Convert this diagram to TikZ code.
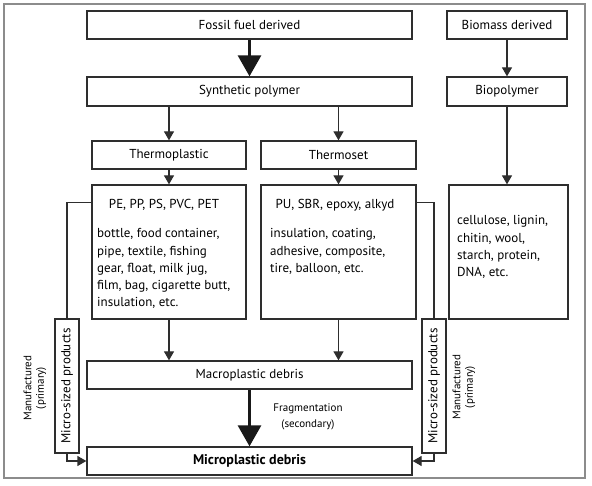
\documentclass[tikz,border=0pt]{standalone}
\usepackage{fontspec}
\setmainfont{PT Sans}
\usetikzlibrary{arrows.meta,positioning,calc}
\definecolor{lineGray}{HTML}{2E2E2E}
\definecolor{frameGray}{HTML}{8C8C8C}

\begin{document}
\begin{tikzpicture}[x=1pt, y=-1pt, font=\fontsize{13}{17.2}\selectfont,
  bx/.style={draw=lineGray, line width=1.3pt, inner sep=0pt},
  ln/.style={draw=lineGray, line width=1.3pt},
  ar/.style={ln, -{Triangle[width=10pt,length=9pt]}},
  bigar/.style={draw=black!90, line width=3pt, -{Triangle[width=23pt,length=21pt]}},
  txt/.style={align=left, inner sep=0pt, anchor=north west},
  side/.style={rotate=90, align=center, font=\fontsize{11}{12.5}\selectfont}]
\useasboundingbox (0,0) rectangle (592,486);
\draw[frameGray, line width=1.3pt] (4,4) rectangle (585,478);
% sources and polymers
\node[bx, minimum width=325pt, minimum height=28pt] (F) at (249.5,25) {Fossil fuel derived};
\node[bx, minimum width=120pt, minimum height=28pt] (B) at (507,25) {Biomass derived};
\node[bx, minimum width=325pt, minimum height=29pt] (S) at (249.5,91.5) {Synthetic polymer};
\node[bx, minimum width=120pt, minimum height=29pt] (BP) at (507,91.5) {Biopolymer};
\node[bx, minimum width=154pt, minimum height=28pt] (TP) at (169,155) {Thermoplastic};
\node[bx, minimum width=155pt, minimum height=28pt] (TS) at (338.5,155) {Thermoset};
% product boxes
\node[bx, minimum width=154pt, minimum height=134pt] (P) at (169,252) {};
\node at (164,205) {PE, PP, PS, PVC, PET};
\node[txt] at (97,228.5) {bottle, food container,\\pipe, textile, fishing\\gear, float, milk jug,\\film, bag, cigarette butt,\\insulation, etc.};
\node[bx, minimum width=155pt, minimum height=134pt] (Q) at (338.5,252) {};
\node at (335,205) {PU, SBR, epoxy, alkyd};
\node[txt] at (270,228.5) {insulation, coating,\\adhesive, composite,\\tire, balloon, etc.};
\node[bx, minimum width=119pt, minimum height=134pt] (N) at (508.5,252) {};
\node[txt] at (457,215.5) {cellulose, lignin,\\chitin, wool,\\starch, protein,\\DNA, etc.};
% debris
\node[bx, minimum width=325pt, minimum height=28pt] (MA) at (249.5,375) {Macroplastic debris};
\node[bx, minimum width=325pt, minimum height=28pt] (MI) at (249.5,461) {\fontsize{14}{17}\selectfont\bfseries Microplastic debris};
\node[align=center, font=\fontsize{11}{16}\selectfont] at (308,417) {Fragmentation\\(secondary)};
\node[bx, rotate=90, minimum width=134pt, minimum height=24pt] (L) at (67,386) {Micro-sized products};
\node[bx, rotate=90, minimum width=134pt, minimum height=24pt] (R) at (434,386) {Micro-sized products};
\node[side] at (35,388) {Manufactured\\(primary)};
\node[side] at (464,387) {Manufactured\\(primary)};
% arrows
\draw[bigar] (F.south) -- (S.north);
\draw[ar] (B.south) -- (BP.north);
\draw[ar] (S.south -| TP) -- (TP.north);
\draw[ar] (S.south -| TS) -- (TS.north);
\draw[ar] (BP.south) -- (BP.south |- N.north);
\draw[ar] (TP.south) -- (P.north);
\draw[ar] (TS.south) -- (Q.north);
\draw[ar] (P.south) -- (P.south |- MA.north);
\draw[ar] (Q.south) -- (Q.south |- MA.north);
\draw[bigar] (MA.south) -- (MI.north);
\draw[ln] (P.north west) ++(0,18) -| (L.east);
\draw[ar] (L.west) |- (MI.west);
\draw[ln] (Q.north east) ++(0,18) -| (R.east);
\draw[ar] (R.west) |- (MI.east);
\end{tikzpicture}
\end{document}
